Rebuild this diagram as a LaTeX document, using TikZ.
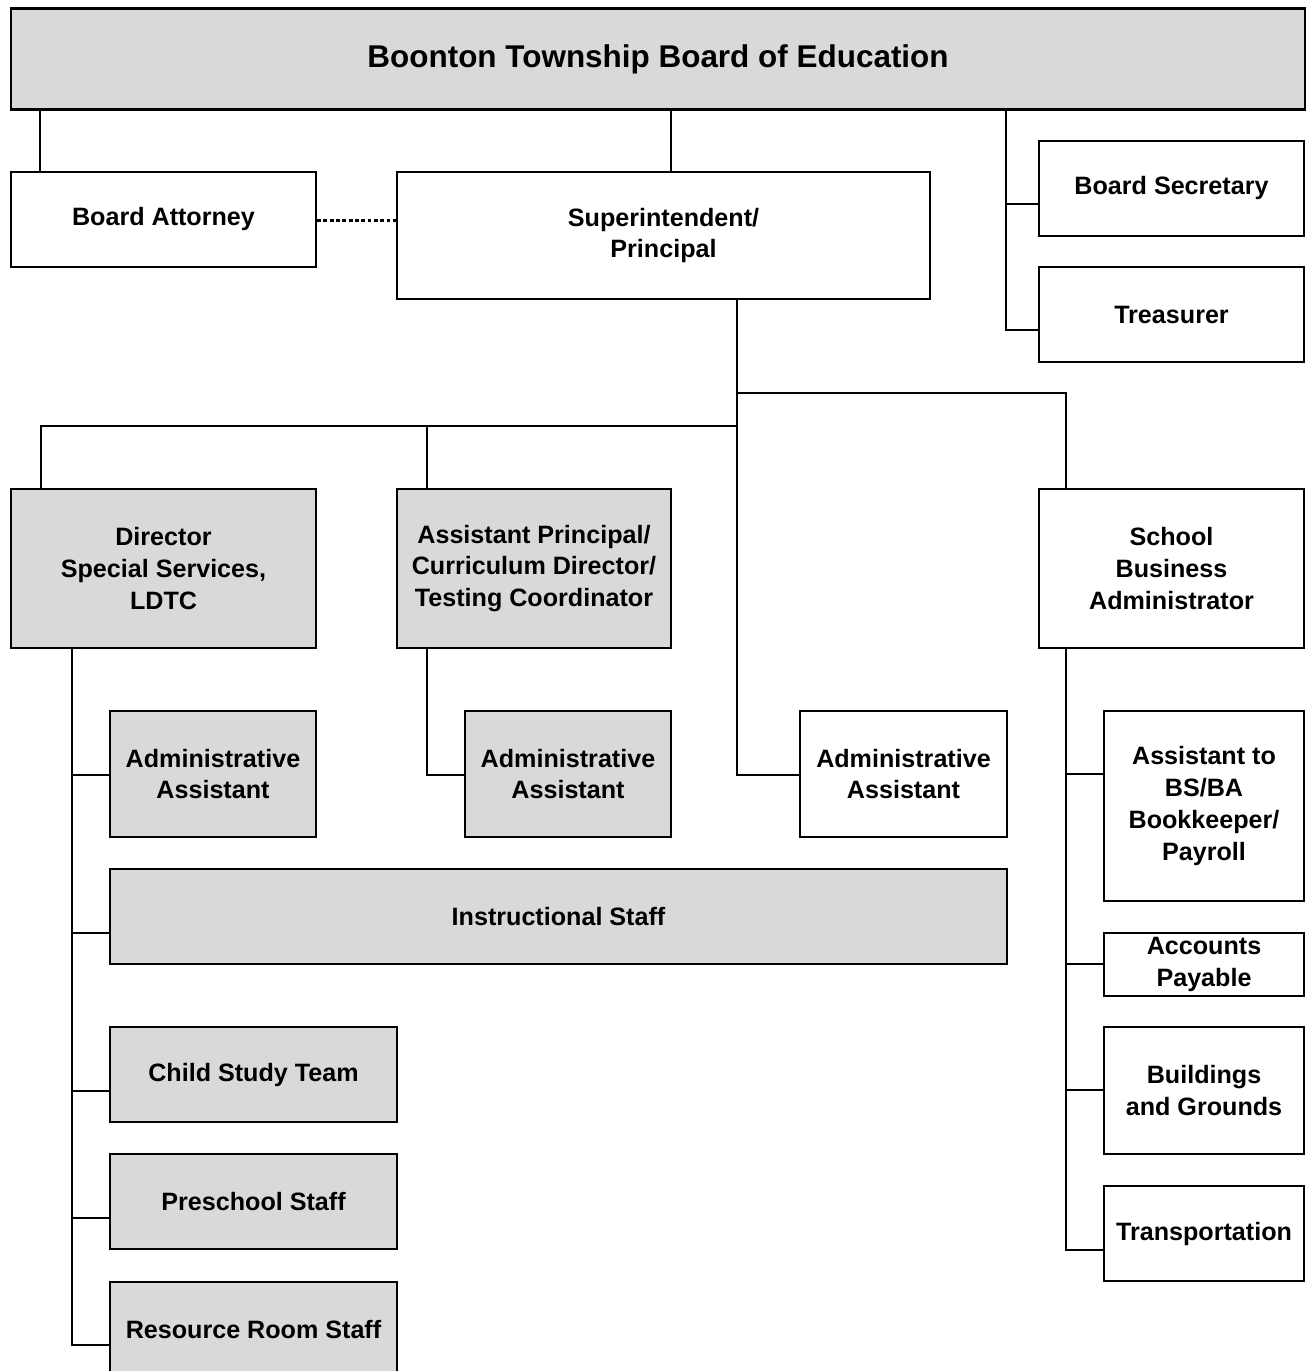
\documentclass[tikz,border=0pt]{standalone}
\usepackage{fontspec}
\setmainfont{Liberation Sans}
\definecolor{boxgrey}{HTML}{D9D9D9}
\tikzset{
  box/.style={draw=black, line width=1.2pt, fill=white, align=center,
    inner sep=1pt, font=\bfseries\fontsize{14.3}{18.1}\selectfont},
  greybox/.style={box, fill=boxgrey},
  link/.style={line width=1.3pt},
}
\begin{document}
\begin{tikzpicture}[x=0.02cm, y=-0.02cm]
    % Area del disegno
    \useasboundingbox (0,0) rectangle (1308,1371);
    \clip (0,0) rectangle (1308,1371);

    % Board
    \node[greybox, minimum width=25.88cm, minimum height=2.02cm,
          font=\bfseries\fontsize{17.9}{22}\selectfont] (board) at (658,59)
          {Boonton Township Board of Education};

    % Secondo livello
    \node[box, minimum width=6.1cm, minimum height=1.9cm] (attorney) at (163.5,219.5) {Board Attorney};
    \node[box, minimum width=10.66cm, minimum height=2.54cm] (supt) at (663.5,235.5) {Superintendent/\\Principal};
    \node[box, minimum width=5.3cm, minimum height=1.9cm] (secretary) at (1171.5,188.5) {Board Secretary};
    \node[box, minimum width=5.3cm, minimum height=1.9cm] (treasurer) at (1171.5,314.5) {Treasurer};

    % Direttori
    \node[greybox, minimum width=6.1cm, minimum height=3.18cm] (director) at (163.5,568.5) {Director\\Special Services,\\LDTC};
    \node[greybox, minimum width=5.48cm, minimum height=3.18cm] (asstprin) at (534,568.5) {Assistant Principal/\\Curriculum Director/\\Testing Coordinator};
    \node[box, minimum width=5.3cm, minimum height=3.18cm] (sba) at (1171.5,568.5) {School\\Business\\Administrator};

    % Assistenti
    \node[greybox, minimum width=4.12cm, minimum height=2.52cm] (aa1) at (213,774) {Administrative\\Assistant};
    \node[greybox, minimum width=4.12cm, minimum height=2.52cm] (aa2) at (568,774) {Administrative\\Assistant};
    \node[box, minimum width=4.14cm, minimum height=2.52cm] (aa3) at (903.5,774) {Administrative\\Assistant};

    % Staff
    \node[greybox, minimum width=17.94cm, minimum height=1.9cm] (instr) at (558.5,916.5) {Instructional Staff};
    \node[greybox, minimum width=5.74cm, minimum height=1.9cm] (cst) at (253.5,1074.5) {Child Study Team};
    \node[greybox, minimum width=5.74cm, minimum height=1.9cm] (pre) at (253.5,1201.5) {Preschool Staff};
    \node[greybox, minimum width=5.74cm, minimum height=1.9cm] (res) at (253.5,1329.5) {Resource Room Staff};

    % Ufficio amministrativo
    \node[box, minimum width=4cm, minimum height=3.8cm] (asstbsba) at (1204,806) {Assistant to\\BS/BA\\Bookkeeper/\\Payroll};
    \node[box, minimum width=4cm, minimum height=1.26cm] (ap) at (1204,964.5) {Accounts\\Payable};
    \node[box, minimum width=4cm, minimum height=2.54cm] (bg) at (1204,1090.5) {Buildings\\and Grounds};
    \node[box, minimum width=4cm, minimum height=1.9cm] (trans) at (1204,1233.5) {Transportation};

    % Collegamenti dal Board
    \draw[link] ([xshift=0.6cm]attorney.north west) -- ([xshift=0.6cm]attorney.north west |- board.south);
    \draw[link] ([xshift=0.15cm]supt.north) -- ([xshift=0.15cm]supt.north |- board.south);
    \draw[link] ([xshift=-0.64cm]secretary.west |- board.south) |- ([yshift=-0.31cm]treasurer.west);
    \draw[link] ([yshift=-0.31cm]secretary.west) -- ++(-0.64cm,0pt);
    \draw[link, dash pattern=on 2.2pt off 1.4pt] ([yshift=-0.02cm]attorney.east) -- ([yshift=-0.02cm]attorney.east -| supt.west);

    % Collegamenti dal Superintendent
    \coordinate (strunk) at ([xshift=1.47cm]supt.south);
    \draw[link] (strunk) |- ([yshift=-0.02cm]aa3.west);
    \draw[link] ([yshift=1.9cm]sba.north -| strunk) -| ([xshift=-2.11cm]sba.north);
    \draw[link] ([yshift=1.24cm]director.north -| strunk) -| ([xshift=-2.45cm]director.north);
    \draw[link] ([xshift=-2.14cm]asstprin.north) -- ++(0pt,1.24cm);

    % Ramo Special Services
    \coordinate (dtrunk) at ([xshift=-1.83cm]director.south);
    \draw[link] (dtrunk) |- ([yshift=-0.31cm]res.west);
    \foreach \n/\dy in {aa1/-0.02, instr/-0.33, cst/-0.33, pre/-0.33}
        \draw[link] ([yshift=\dy cm]\n.west) -- ([yshift=\dy cm]\n.west -| dtrunk);

    % Ramo Assistant Principal
    \draw[link] ([xshift=-2.14cm]asstprin.south) |- ([yshift=-0.02cm]aa2.west);

    % Ramo Business Administrator
    \coordinate (btrunk) at ([xshift=-2.11cm]sba.south);
    \draw[link] (btrunk) |- ([yshift=-0.33cm]trans.west);
    \foreach \n/\dy in {asstbsba/0.64, ap/0.01, bg/0.01}
        \draw[link] ([yshift=\dy cm]\n.west) -- ([yshift=\dy cm]\n.west -| btrunk);

\end{tikzpicture}
\end{document}
